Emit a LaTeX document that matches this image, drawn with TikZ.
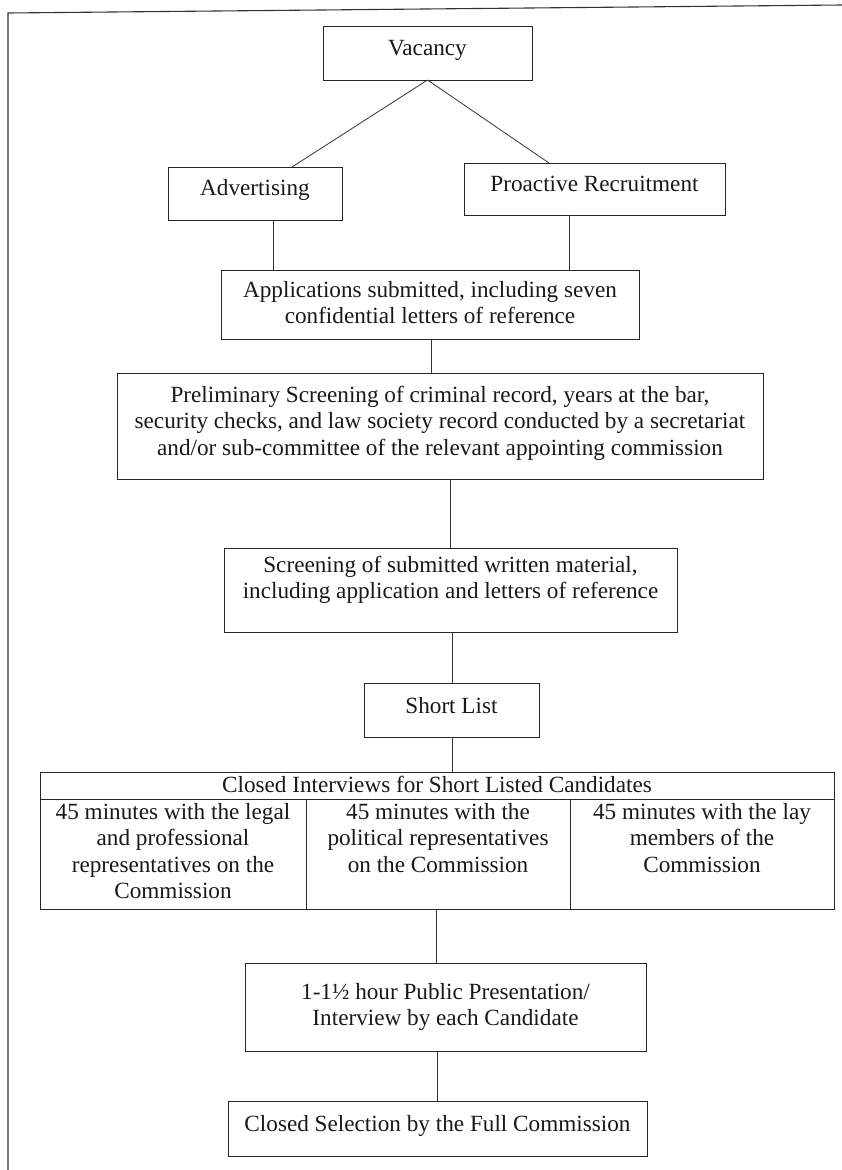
\documentclass[tikz,border=0pt]{standalone}
\usepackage{fontspec}
\setmainfont{Liberation Serif}
\newcommand{\boxtext}[2]{\parbox[t]{#1}{\centering #2}}
\begin{document}
\begin{tikzpicture}[x=1pt,y=-1pt,
  box/.style={draw=black!85, line width=0.9pt, inner sep=0pt, outer sep=0pt},
  txt/.style={anchor=base, inner sep=0pt, text=black!90, font=\fontsize{23.2}{26.5}\selectfont},
  link/.style={draw=black!80, line width=0.8pt}]
\useasboundingbox[fill=white] (0,0) rectangle (842,1170);
\draw[line width=1.1pt, black!80] (8,1170) -- (8,13) -- (842,5);

% boxes
\node[box, minimum width=209pt, minimum height=54pt] (vac) at (427.5,53) {};
\node[box, minimum width=174pt, minimum height=53pt] (adv) at (255,193.5) {};
\node[box, minimum width=261pt, minimum height=52pt] (pro) at (594.5,189) {};
\node[box, minimum width=418pt, minimum height=69pt] (app) at (430,304.5) {};
\node[box, minimum width=646pt, minimum height=106pt] (pre) at (440,426) {};
\node[box, minimum width=453pt, minimum height=84pt] (scr) at (450.5,590) {};
\node[box, minimum width=175pt, minimum height=54pt] (shl) at (451.5,710) {};
\node[box, minimum width=794pt, minimum height=27pt] (hdr) at (437,785.5) {};
\node[box, minimum width=266pt, minimum height=110pt] (c1) at (173,854) {};
\node[box, minimum width=264pt, minimum height=110pt] (c2) at (438,854) {};
\node[box, minimum width=264pt, minimum height=110pt] (c3) at (702,854) {};
\node[box, minimum width=401pt, minimum height=88pt] (pub) at (445.5,1007) {};
\node[box, minimum width=419pt, minimum height=55pt] (sel) at (437.5,1128.5) {};

% texts
\node[txt] (vact) at (427.5,55) {Vacancy};
\node[txt] (advt) at (255,195) {Advertising};
\node[txt] (prot) at (594.5,191) {Proactive Recruitment};
\node[txt] (appt) at (430,297) {\boxtext{418pt}{Applications submitted, including seven\\confidential letters of reference}};
\node[txt] (pret) at (440,402) {\boxtext{646pt}{Preliminary Screening of criminal record, years at the bar,\\security checks, and law society record conducted by a secretariat\\and/or sub-committee of the relevant appointing commission}};
\node[txt] (scrt) at (450.5,572) {\boxtext{453pt}{Screening of submitted written material,\\including application and letters of reference}};
\node[txt] (shlt) at (451.5,713) {Short List};
\node[txt] (hdrt) at (437,792) {Closed Interviews for Short Listed Candidates};
\node[txt] (c1t) at (173,819) {\boxtext{266pt}{45 minutes with the legal\\and professional\\representatives on the\\Commission}};
\node[txt] (c2t) at (438,819) {\boxtext{264pt}{45 minutes with the\\political representatives\\on the Commission}};
\node[txt] (c3t) at (702,819) {\boxtext{264pt}{45 minutes with the lay\\members of the\\Commission}};
\node[txt] (pubt) at (445.5,999) {\boxtext{401pt}{1-1½ hour Public Presentation/\\Interview by each Candidate}};
\node[txt] (selt) at (437.5,1131) {Closed Selection by the Full Commission};

% connectors
\coordinate (advtop) at ([xshift=37pt]adv.north);
\coordinate (protop) at ([xshift=-45.5pt]pro.north);
\draw[link] (vac.south) -- (advtop);
\draw[link] (vac.south) -- (protop);
\coordinate (advb) at ([xshift=18pt]adv.south);
\coordinate (prob) at ([xshift=-25.5pt]pro.south);
\draw[link] (advb) -- (advb |- app.north);
\draw[link] (prob) -- (prob |- app.north);
\coordinate (appb) at ([xshift=1pt]app.south);
\draw[link] (appb) -- (appb |- pre.north);
\coordinate (preb) at ([xshift=10pt]pre.south);
\draw[link] (preb) -- (preb |- scr.north);
\coordinate (scrb) at ([xshift=1.5pt]scr.south);
\draw[link] (scrb) -- (scrb |- shl.north);
\coordinate (shlb) at ([xshift=0.5pt]shl.south);
\draw[link] (shlb) -- (shlb |- hdr.north);
\coordinate (c2b) at ([xshift=-2pt]c2.south);
\draw[link] (c2b) -- (c2b |- pub.north);
\coordinate (pubb) at ([xshift=-8pt]pub.south);
\draw[link] (pubb) -- (pubb |- sel.north);
\end{tikzpicture}
\end{document}
